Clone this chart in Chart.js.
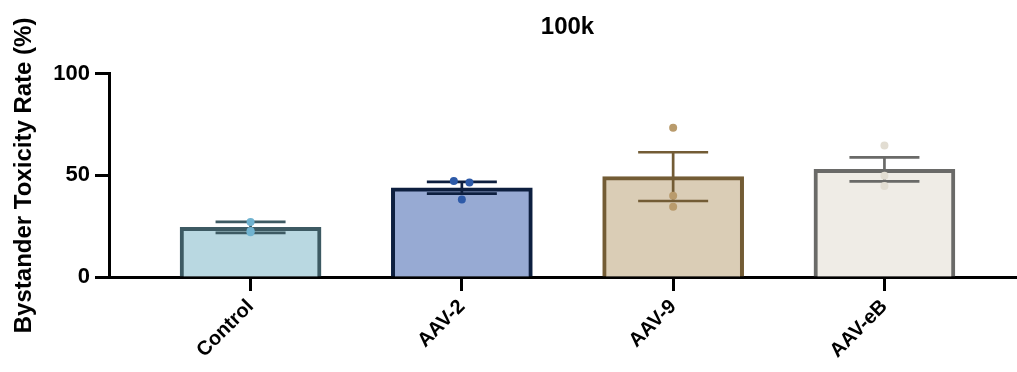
<!DOCTYPE html>
<html>
<head>
<meta charset="utf-8">
<script src="https://cdn.jsdelivr.net/npm/chart.js@4"></script>
<style>
  html, body { margin: 0; padding: 0; background: #fff; overflow: hidden; }
  #wrap { width: 1030px; height: 372px; }
</style>
</head>
<body>
<div id="wrap"><canvas id="toxChart" width="1030" height="372"></canvas></div>
<script>
const groups = ['Control', 'AAV-2', 'AAV-9', 'AAV-eB'];
const means = [24.4, 43.9, 49.4, 53.0];
const errs = [2.7, 2.9, 12.0, 5.9];
// individual replicates per group, with small horizontal nudges so overlapping dots stay visible
const replicates = [
    [27.1, 22.0, 22.6],
    [47.3, 46.5, 38.1],
    [73.5, 40.0, 34.6],
    [64.7, 49.8, 44.8]
];
const nudges = [
    [0, 0, 0],
    [-0.038, 0.036, 0],
    [0, 0, 0],
    [0, 0, 0]
];
const yTicks = [0, 50, 100];

const fillColors = ['#b9d8e1', '#97aad3', '#dacdb6', '#efece6'];
const lineColors = ['#3d5a63', '#0d1f3f', '#735c35', '#6a6a68'];
const dotColors = ['#70b3d0', '#2d5aa8', '#b99b6c', '#e2ddd2'];

let dots = [];
let dotFill = [];
replicates.forEach((vals, g) => {
    vals.forEach((v, k) => {
        dots.push({ x: g + nudges[g][k], y: v });
        dotFill.push(dotColors[g]);
    });
});

// mean +/- error whiskers, drawn right after the bars and under the dots
const errorBars = {
    id: 'errorBars',
    afterDatasetDraw(chart, args) {
        if (args.index !== 0) return;
        const ctx = chart.ctx;
        const xs = chart.scales.x, ys = chart.scales.y;
        ctx.save();
        ctx.lineWidth = 2.7;
        means.forEach((m, i) => {
            const x = xs.getPixelForValue(i);
            const top = ys.getPixelForValue(m + errs[i]);
            const bot = ys.getPixelForValue(m - errs[i]);
            ctx.strokeStyle = lineColors[i];
            ctx.beginPath();
            ctx.moveTo(x, top); ctx.lineTo(x, bot);
            ctx.moveTo(x - 35, top); ctx.lineTo(x + 35, top);
            ctx.moveTo(x - 35, bot); ctx.lineTo(x + 35, bot);
            ctx.stroke();
        });
        ctx.restore();
    }
};

new Chart(document.getElementById('toxChart').getContext('2d'), {
    type: 'bar',
    data: {
        datasets: [{
            type: 'bar',
            order: 2,
            data: means.map((m, i) => ({ x: i, y: m })),
            backgroundColor: fillColors,
            borderColor: lineColors,
            borderWidth: 4,
            borderSkipped: 'start',
            barThickness: 141
        }, {
            type: 'scatter',
            order: 1,
            data: dots,
            pointBackgroundColor: dotFill,
            pointBorderWidth: 0,
            pointRadius: 4
        }]
    },
    options: {
        responsive: false,
        animation: false,
        events: [],
        layout: { padding: 0 },
        plugins: {
            legend: { display: false },
            tooltip: { enabled: false },
            title: {
                display: true,
                text: '100k',
                fullSize: false,
                color: '#000',
                font: { family: 'Liberation Sans, Arial, sans-serif', size: 24, weight: 'bold' },
                padding: { top: 13, bottom: 32 }
            }
        },
        scales: {
            x: {
                type: 'linear',
                offset: false,
                min: -0.67,
                max: 3.67,
                afterBuildTicks: s => { s.ticks = groups.map((g, i) => ({ value: i })); },
                afterFit: s => { s.height = 95; },
                grid: { offset: false, drawOnChartArea: false, drawTicks: true, tickLength: 14, tickWidth: 3, tickColor: '#000' },
                border: { display: true, width: 3, color: '#000' },
                ticks: {
                    autoSkip: false,
                    minRotation: 45,
                    maxRotation: 45,
                    padding: 4,
                    color: '#000',
                    font: { family: 'Liberation Sans, Arial, sans-serif', size: 20, weight: 'bold' },
                    callback: v => groups[v] ?? ''
                }
            },
            y: {
                min: 0,
                max: 100,
                afterBuildTicks: s => { s.ticks = yTicks.map(v => ({ value: v })); },
                afterFit: s => { s.width = 109; },
                grid: { drawOnChartArea: false, drawTicks: true, tickLength: 14, tickWidth: 3, tickColor: '#000' },
                border: { display: true, width: 3, color: '#000' },
                ticks: {
                    padding: 5,
                    color: '#000',
                    font: { family: 'Liberation Sans, Arial, sans-serif', size: 22, weight: 'bold' }
                },
                title: {
                    display: true,
                    text: 'Bystander Toxicity Rate (%)',
                    color: '#000',
                    padding: { top: 10, bottom: 0 },
                    font: { family: 'Liberation Sans, Arial, sans-serif', size: 24, weight: 'bold' }
                }
            }
        }
    },
    plugins: [errorBars]
});
</script>
</body>
</html>
